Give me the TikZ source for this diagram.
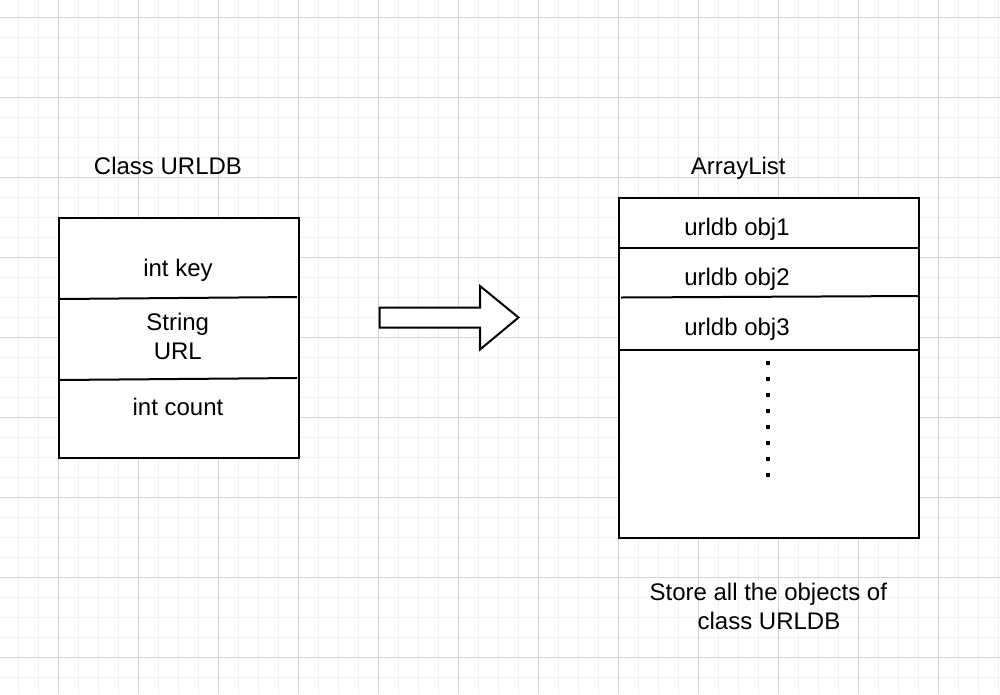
\documentclass[tikz,border=0pt]{standalone}
\usepackage{fontspec}
\setmainfont{Liberation Sans}
\definecolor{gridminor}{HTML}{F0F0F0}
\definecolor{gridmajor}{HTML}{D3D3D3}
\begin{document}
\begin{tikzpicture}[x=1pt,y=-1pt,
  lbl/.style={anchor=base,inner sep=0pt,font=\fontsize{24}{28}\selectfont},
  boxline/.style={line width=2pt,black},
  dotsq/.style={fill=black,minimum size=4.5pt,inner sep=0pt,draw=none}]
\useasboundingbox (0,0) rectangle (1000,694);
\fill[white] (0,0) rectangle (1000,694);
% grid
\foreach \x in {-2,18,...,1000} \draw[gridminor,line width=1pt] (\x,0) -- (\x,694);
\foreach \y in {-3,17,...,694} \draw[gridminor,line width=1pt] (0,\y) -- (1000,\y);
\foreach \x in {58,138,...,1000} \draw[gridmajor,line width=1pt] (\x,0) -- (\x,694);
\foreach \y in {17,97,...,694} \draw[gridmajor,line width=1pt] (0,\y) -- (1000,\y);
% left class box
\node[boxline,draw,fill=white,minimum width=240.5pt,minimum height=240pt,inner sep=0pt] (classbox) at (178.75,337.5) {};
\coordinate (c1l) at (58.5,299); \coordinate (c1r) at (297,297);
\coordinate (c2l) at (58.5,380); \coordinate (c2r) at (297,378);
\draw[boxline] (c1l) -- (c1r);
\draw[boxline] (c2l) -- (c2r);
\node[lbl] (title1) at (168,174) {Class URLDB};
\node[lbl] (f1) at (178,276.7) {int key};
\node[lbl] (f2a) at (177.7,330) {String};
\node[lbl] (f2b) at (177.8,359.3) {URL};
\node[lbl] (f3) at (178,415) {int count};
% arrow
\draw[boxline,fill=white,line join=miter] (379.5,307.5) -- (480,307.5) -- (480,286) -- (518.5,317.5) -- (480,349.5) -- (480,327.5) -- (379.5,327.5) -- cycle;
% right list box
\node[boxline,draw,fill=white,minimum width=300pt,minimum height=340pt,inner sep=0pt] (listbox) at (769,367.5) {};
\coordinate (r1l) at (619,247.5); \coordinate (r1r) at (919,247.5);
\coordinate (r2l) at (621,297.5); \coordinate (r2r) at (919,296);
\coordinate (r3l) at (619,350); \coordinate (r3r) at (919,350);
\draw[boxline] (r1l) -- (r1r);
\draw[boxline] (r2l) -- (r2r);
\draw[boxline] (r3l) -- (r3r);
\node[lbl] (title2) at (738.3,174) {ArrayList};
\node[lbl] (o1) at (737,235) {urldb obj1};
\node[lbl] (o2) at (737,285.7) {urldb obj2};
\node[lbl] (o3) at (737,335.7) {urldb obj3};
\foreach \k in {0,...,7} \node[dotsq] (d\k) at (768,363+16*\k) {};
\node[lbl] (note1) at (768.3,600.7) {Store all the objects of};
\node[lbl] (note2) at (769,629.3) {class URLDB};
\end{tikzpicture}
\end{document}
